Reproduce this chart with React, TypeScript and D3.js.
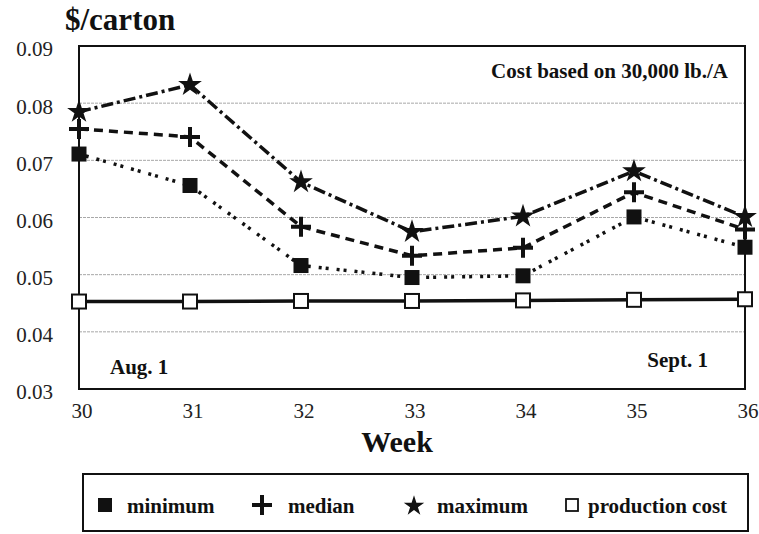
import React from "react";
import * as d3 from "d3";

const weeks = [30, 31, 32, 33, 34, 35, 36];
const minimum = [0.0711, 0.0656, 0.0516, 0.0495, 0.0498, 0.0601, 0.0548];
const median = [0.0755, 0.0741, 0.0584, 0.0533, 0.0547, 0.0644, 0.0579];
const maximum = [0.0785, 0.0832, 0.0662, 0.0575, 0.0602, 0.0681, 0.0601];
const production = [0.0453, 0.0453, 0.0454, 0.0454, 0.0455, 0.0456, 0.0457];
const yTicks = [0.03, 0.04, 0.05, 0.06, 0.07, 0.08, 0.09];
const gridTicks = [0.04, 0.05, 0.06, 0.07, 0.08];
const legendLabels = ["minimum", "median", "maximum", "production cost"];

const W = 759;
const H = 534;
const FONT = '"Liberation Serif", "Times New Roman", serif';

const x = d3.scaleLinear().domain([30, 36]).range([79, 745]);
const y = d3.scaleLinear().domain([0.03, 0.09]).range([389, 46]);

const starPath = d3.symbol().type(d3.symbolStar).size(175)();
const starPathLegend = d3.symbol().type(d3.symbolStar).size(130)();

function plusPath(cx: number, cy: number, r: number) {
  return `M${cx - r},${cy}H${cx + r}M${cx},${cy - r}V${cy + r}`;
}

export default function App() {
  const mk = (vals: number[]) =>
    d3
      .line<number>()
      .x((_, i) => x(weeks[i]))
      .y((v) => y(v))(vals) as string;

  const xr = x.range();
  const yr = y.range();

  const legendY = 505;
  return (
    <svg
      width={W}
      height={H}
      style={{ position: "absolute", left: 0, top: 0, background: "#fff" }}
      fontFamily={FONT}
    >
      <rect x={0} y={0} width={W} height={H} fill="#fff" />
      <text x={65} y={30} fontSize={31} fontWeight="bold" fill="#111">
        $/carton
      </text>
      {gridTicks.map((t) => (
        <line
          key={t}
          x1={xr[0]}
          x2={xr[1]}
          y1={y(t)}
          y2={y(t)}
          stroke="#a8a8a8"
          strokeWidth={1}
          strokeDasharray="3,1"
        />
      ))}
      <rect
        x={xr[0]}
        y={yr[1]}
        width={xr[1] - xr[0]}
        height={yr[0] - yr[1]}
        fill="none"
        stroke="#111"
        strokeWidth={2}
      />
      {yTicks.map((t) => (
        <text
          key={t}
          x={53}
          y={y(t) + 3}
          dy="0.35em"
          textAnchor="end"
          fontSize={21}
          fill="#222"
        >
          {t.toFixed(2)}
        </text>
      ))}
      {weeks.map((w) => (
        <text
          key={w}
          x={x(w) + 3}
          y={418}
          textAnchor="middle"
          fontSize={21}
          fill="#222"
        >
          {w}
        </text>
      ))}
      <text
        x={397}
        y={452}
        textAnchor="middle"
        fontSize={30}
        fontWeight="bold"
        fill="#111"
      >
        Week
      </text>
      <text x={728} y={78} textAnchor="end" fontSize={21} fontWeight="bold" fill="#111">
        Cost based on 30,000 lb./A
      </text>
      <text x={110} y={374} fontSize={21} fontWeight="bold" fill="#111">
        Aug. 1
      </text>
      <text x={708} y={367} textAnchor="end" fontSize={21} fontWeight="bold" fill="#111">
        Sept. 1
      </text>

      <path d={mk(production)} fill="none" stroke="#111" strokeWidth={3.5} />
      <path
        d={mk(minimum)}
        fill="none"
        stroke="#111"
        strokeWidth={3.5}
        strokeDasharray="3,4,3,8"
      />
      <path
        d={mk(median)}
        fill="none"
        stroke="#111"
        strokeWidth={3.5}
        strokeDasharray="9,6"
      />
      <path
        d={mk(maximum)}
        fill="none"
        stroke="#111"
        strokeWidth={3.5}
        strokeDasharray="12,4,3,4"
      />

      {production.map((v, i) => (
        <rect
          key={"p" + i}
          x={x(weeks[i]) - 7}
          y={y(v) - 7}
          width={14}
          height={14}
          fill="#fff"
          stroke="#111"
          strokeWidth={2}
        />
      ))}
      {minimum.map((v, i) => (
        <rect
          key={"m" + i}
          x={x(weeks[i]) - 7.5}
          y={y(v) - 7.5}
          width={15}
          height={15}
          fill="#111"
        />
      ))}
      {median.map((v, i) => (
        <path
          key={"d" + i}
          d={plusPath(x(weeks[i]), y(v), 10)}
          stroke="#111"
          strokeWidth={4}
          fill="none"
        />
      ))}
      {maximum.map((v, i) => (
        <path
          key={"s" + i}
          d={starPath}
          transform={`translate(${x(weeks[i])},${y(v)})`}
          fill="#111"
        />
      ))}

      <rect x={83} y={474} width={665} height={57} fill="none" stroke="#111" strokeWidth={2} />
      <rect x={98} y={legendY - 7} width={14} height={14} fill="#111" />
      <text x={127} y={513} fontSize={21} fontWeight="bold" fill="#111">
        {legendLabels[0]}
      </text>
      <path d={plusPath(262, legendY, 10)} stroke="#111" strokeWidth={4} fill="none" />
      <text x={288} y={513} fontSize={21} fontWeight="bold" fill="#111">
        {legendLabels[1]}
      </text>
      <path d={starPathLegend} transform={`translate(414,${legendY + 1})`} fill="#111" />
      <text x={437} y={513} fontSize={21} fontWeight="bold" fill="#111">
        {legendLabels[2]}
      </text>
      <rect
        x={566}
        y={legendY - 6}
        width={12}
        height={12}
        fill="#fff"
        stroke="#111"
        strokeWidth={1.8}
      />
      <text x={588} y={513} fontSize={21} fontWeight="bold" fill="#111">
        {legendLabels[3]}
      </text>
    </svg>
  );
}
